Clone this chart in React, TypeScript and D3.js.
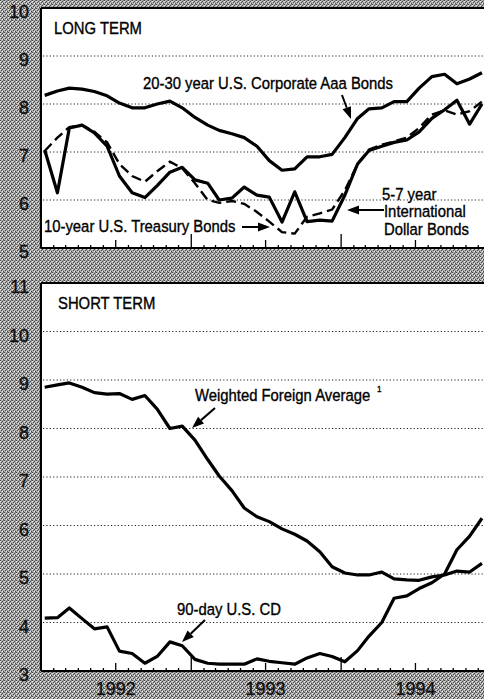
import React from "react";
import * as d3 from "d3";

// monthly observations, Jan 1992 - Dec 1994
const months = d3.range(36).map((i) => new Date(1992, i, 10));

const corporateAaa = [
  8.18, 8.27, 8.33, 8.31, 8.26, 8.17, 8.02, 7.92, 7.92, 8.0, 8.06, 7.92,
  7.72, 7.56, 7.45, 7.38, 7.3, 7.12, 6.82, 6.62, 6.65, 6.9, 6.9, 6.95,
  7.3, 7.7, 7.9, 7.92, 8.05, 8.05, 8.33, 8.57, 8.62, 8.42, 8.52, 8.65,
];
const treasury10 = [
  7.04, 6.15, 7.5, 7.56, 7.4, 7.12, 6.5, 6.15, 6.05, 6.3, 6.58, 6.68,
  6.42, 6.35, 6.0, 6.04, 6.27, 6.1, 6.06, 5.54, 6.17, 5.55, 5.58, 5.56,
  6.1, 6.75, 7.03, 7.12, 7.2, 7.25, 7.42, 7.7, 7.88, 8.08, 7.58, 8.0,
];
const intlDollar = [
  7.02, 7.3, 7.52, 7.56, 7.42, 7.2, 6.75, 6.5, 6.38, 6.6, 6.8, 6.66,
  6.35, 6.0, 5.94, 5.98, 5.92, 5.75, 5.55, 5.33, 5.3, 5.65, 5.72, 5.8,
  6.2, 6.75, 7.05, 7.15, 7.22, 7.3, 7.5, 7.78, 7.87, 7.78, 7.85, 8.05,
];
const foreignAvg = [
  8.85, 8.9, 8.94, 8.85, 8.74, 8.71, 8.72, 8.6, 8.68, 8.4, 8.0, 8.05,
  7.76, 7.36, 7.02, 6.72, 6.36, 6.18, 6.08, 5.93, 5.82, 5.68, 5.46, 5.15,
  5.02, 4.98, 4.98, 5.04, 4.9, 4.88, 4.87, 4.94, 4.98, 5.06, 5.04, 5.22,
];
const usCD90 = [
  4.09, 4.1, 4.3, 4.08, 3.87, 3.91, 3.41, 3.36, 3.16, 3.3, 3.6, 3.52,
  3.24, 3.16, 3.14, 3.14, 3.14, 3.25, 3.2, 3.17, 3.14, 3.27, 3.36, 3.3,
  3.19, 3.42, 3.72, 4.0, 4.5, 4.55, 4.7, 4.82, 5.0, 5.5, 5.78, 6.15,
];

const longTicks = [5, 6, 7, 8, 9, 10];
const shortTicks = [3, 4, 5, 6, 7, 8, 9, 10, 11];
const years = [1992, 1993, 1994];

const FONT = "'Liberation Sans', Arial, Helvetica, sans-serif";

const x = d3
  .scaleTime()
  .domain([new Date(1992, 0, 1), new Date(1995, 0, 1)])
  .range([41, 491]);
const yLong = d3.scaleLinear().domain([5, 10]).range([248, 8]);
const yShort = d3.scaleLinear().domain([3, 11]).range([671, 283]);

const tickMonths = d3.timeMonth.range(new Date(1992, 0, 1), new Date(1995, 0, 2));

// narrow, slightly heavy label text like the printed original
const Label = ({ x, y, size = 16.5, children }: any) => (
  <text
    transform={`translate(${x},${y}) scale(0.9,1)`}
    fontFamily={FONT}
    fontSize={size}
    fill="#000"
    stroke="#000"
    strokeWidth={0.35}
  >
    {children}
  </text>
);

const Arrow = ({ x1, y1, x2, y2 }: any) => {
  const ang = Math.atan2(y2 - y1, x2 - x1);
  const len = 12;
  const hw = 4.5;
  const bx = x2 - len * Math.cos(ang);
  const by = y2 - len * Math.sin(ang);
  const px = -Math.sin(ang) * hw;
  const py = Math.cos(ang) * hw;
  return (
    <g>
      <line x1={x1} y1={y1} x2={bx} y2={by} stroke="#000" strokeWidth={2} />
      <path d={`M${x2},${y2}L${bx + px},${by + py}L${bx - px},${by - py}Z`} fill="#000" />
    </g>
  );
};

const Panel = ({ y, ticks }: any) => {
  const [lo, hi] = y.domain();
  const top = y(hi);
  const bottom = y(lo);
  return (
    <g>
      <rect x={41} y={top} width={460} height={bottom - top} fill="#fff" />
      {ticks
        .filter((t: number) => t !== lo && t !== hi)
        .map((t: number) => (
          <line key={t} x1={43} x2={491} y1={y(t)} y2={y(t)} stroke="#222" strokeWidth={1} strokeDasharray="1.2,2.2" />
        ))}
      {tickMonths.map((m, i) => {
        const mo = m.getMonth();
        const h = mo === 0 ? 14 : mo === 6 ? 8 : 3;
        return <line key={i} x1={x(m)} x2={x(m)} y1={bottom} y2={bottom - h} stroke="#000" strokeWidth={1.3} />;
      })}
      <line x1={41} x2={491} y1={top} y2={top} stroke="#000" strokeWidth={2} />
      <line x1={41} x2={491} y1={bottom} y2={bottom} stroke="#000" strokeWidth={2} />
      <line x1={41} x2={41} y1={top} y2={bottom} stroke="#000" strokeWidth={2} />
      {ticks.map((t: number) => (
        <text
          key={t}
          x={29}
          y={y(t) + 4}
          dy="0.35em"
          textAnchor="end"
          fontSize={18}
          fontFamily={FONT}
          fill="#111"
          stroke="#111"
          strokeWidth={0.4}
        >
          {t}
        </text>
      ))}
    </g>
  );
};

export default function App() {
  const lineLong = d3
    .line<number>()
    .x((_, i) => x(months[i]))
    .y((d) => yLong(d));
  const lineShort = d3
    .line<number>()
    .x((_, i) => x(months[i]))
    .y((d) => yShort(d));

  return (
    <svg width={484} height={699} style={{ position: "absolute", left: 0, top: 0, display: "block" }}>
      <defs>
        <pattern id="dither" width={4} height={4} patternUnits="userSpaceOnUse">
          <rect width={4} height={4} fill="#b0b0b0" />
          <rect x={0} y={0} width={1} height={1} fill="#444" />
          <rect x={2} y={1} width={1} height={1} fill="#444" />
          <rect x={1} y={2} width={1} height={1} fill="#444" />
          <rect x={3} y={3} width={1} height={1} fill="#444" />
          <rect x={2} y={3} width={1} height={1} fill="#eee" />
          <rect x={0} y={1} width={1} height={1} fill="#eee" />
          <rect x={3} y={0} width={1} height={1} fill="#777" />
        </pattern>
      </defs>
      <rect width={484} height={699} fill="url(#dither)" shapeRendering="crispEdges" />

      <Panel y={yLong} ticks={longTicks} />
      <Panel y={yShort} ticks={shortTicks} />

      {/* long term */}
      <path d={lineLong(corporateAaa) || ""} fill="none" stroke="#000" strokeWidth={3.2} strokeLinejoin="round" />
      <path d={lineLong(treasury10) || ""} fill="none" stroke="#000" strokeWidth={3.2} strokeLinejoin="round" />
      <path d={lineLong(intlDollar) || ""} fill="none" stroke="#000" strokeWidth={2.4} strokeDasharray="10,5" />

      {/* short term */}
      <path d={lineShort(foreignAvg) || ""} fill="none" stroke="#000" strokeWidth={3.2} strokeLinejoin="round" />
      <path d={lineShort(usCD90) || ""} fill="none" stroke="#000" strokeWidth={3.2} strokeLinejoin="round" />

      <Label x={54} y={34}>LONG TERM</Label>
      <Label x={143} y={89}>20-30 year U.S. Corporate Aaa Bonds</Label>
      <Label x={44} y={232}>10-year U.S. Treasury Bonds</Label>
      <Label x={382} y={200}>5-7 year</Label>
      <Label x={384} y={217}>International</Label>
      <Label x={384} y={235}>Dollar Bonds</Label>
      <Label x={58} y={309}>SHORT TERM</Label>
      <Label x={195} y={401}>Weighted Foreign Average</Label>
      <Label x={377} y={392} size={9}>1</Label>
      <Label x={177} y={615}>90-day U.S. CD</Label>

      <Arrow x1={342} y1={95} x2={351} y2={119} />
      <Arrow x1={242} y1={227} x2={270} y2={227} />
      <Arrow x1={384} y1={210} x2={347} y2={210} />
      <Arrow x1={215} y1={408} x2={192} y2={428} />
      <Arrow x1={205} y1={620} x2={182} y2={642} />

      {years.map((yr) => (
        <text
          key={yr}
          x={x(new Date(yr, 6, 1))}
          y={695}
          textAnchor="middle"
          fontSize={18}
          fontFamily={FONT}
          fill="#111"
          stroke="#111"
          strokeWidth={0.4}
        >
          {yr}
        </text>
      ))}
    </svg>
  );
}
